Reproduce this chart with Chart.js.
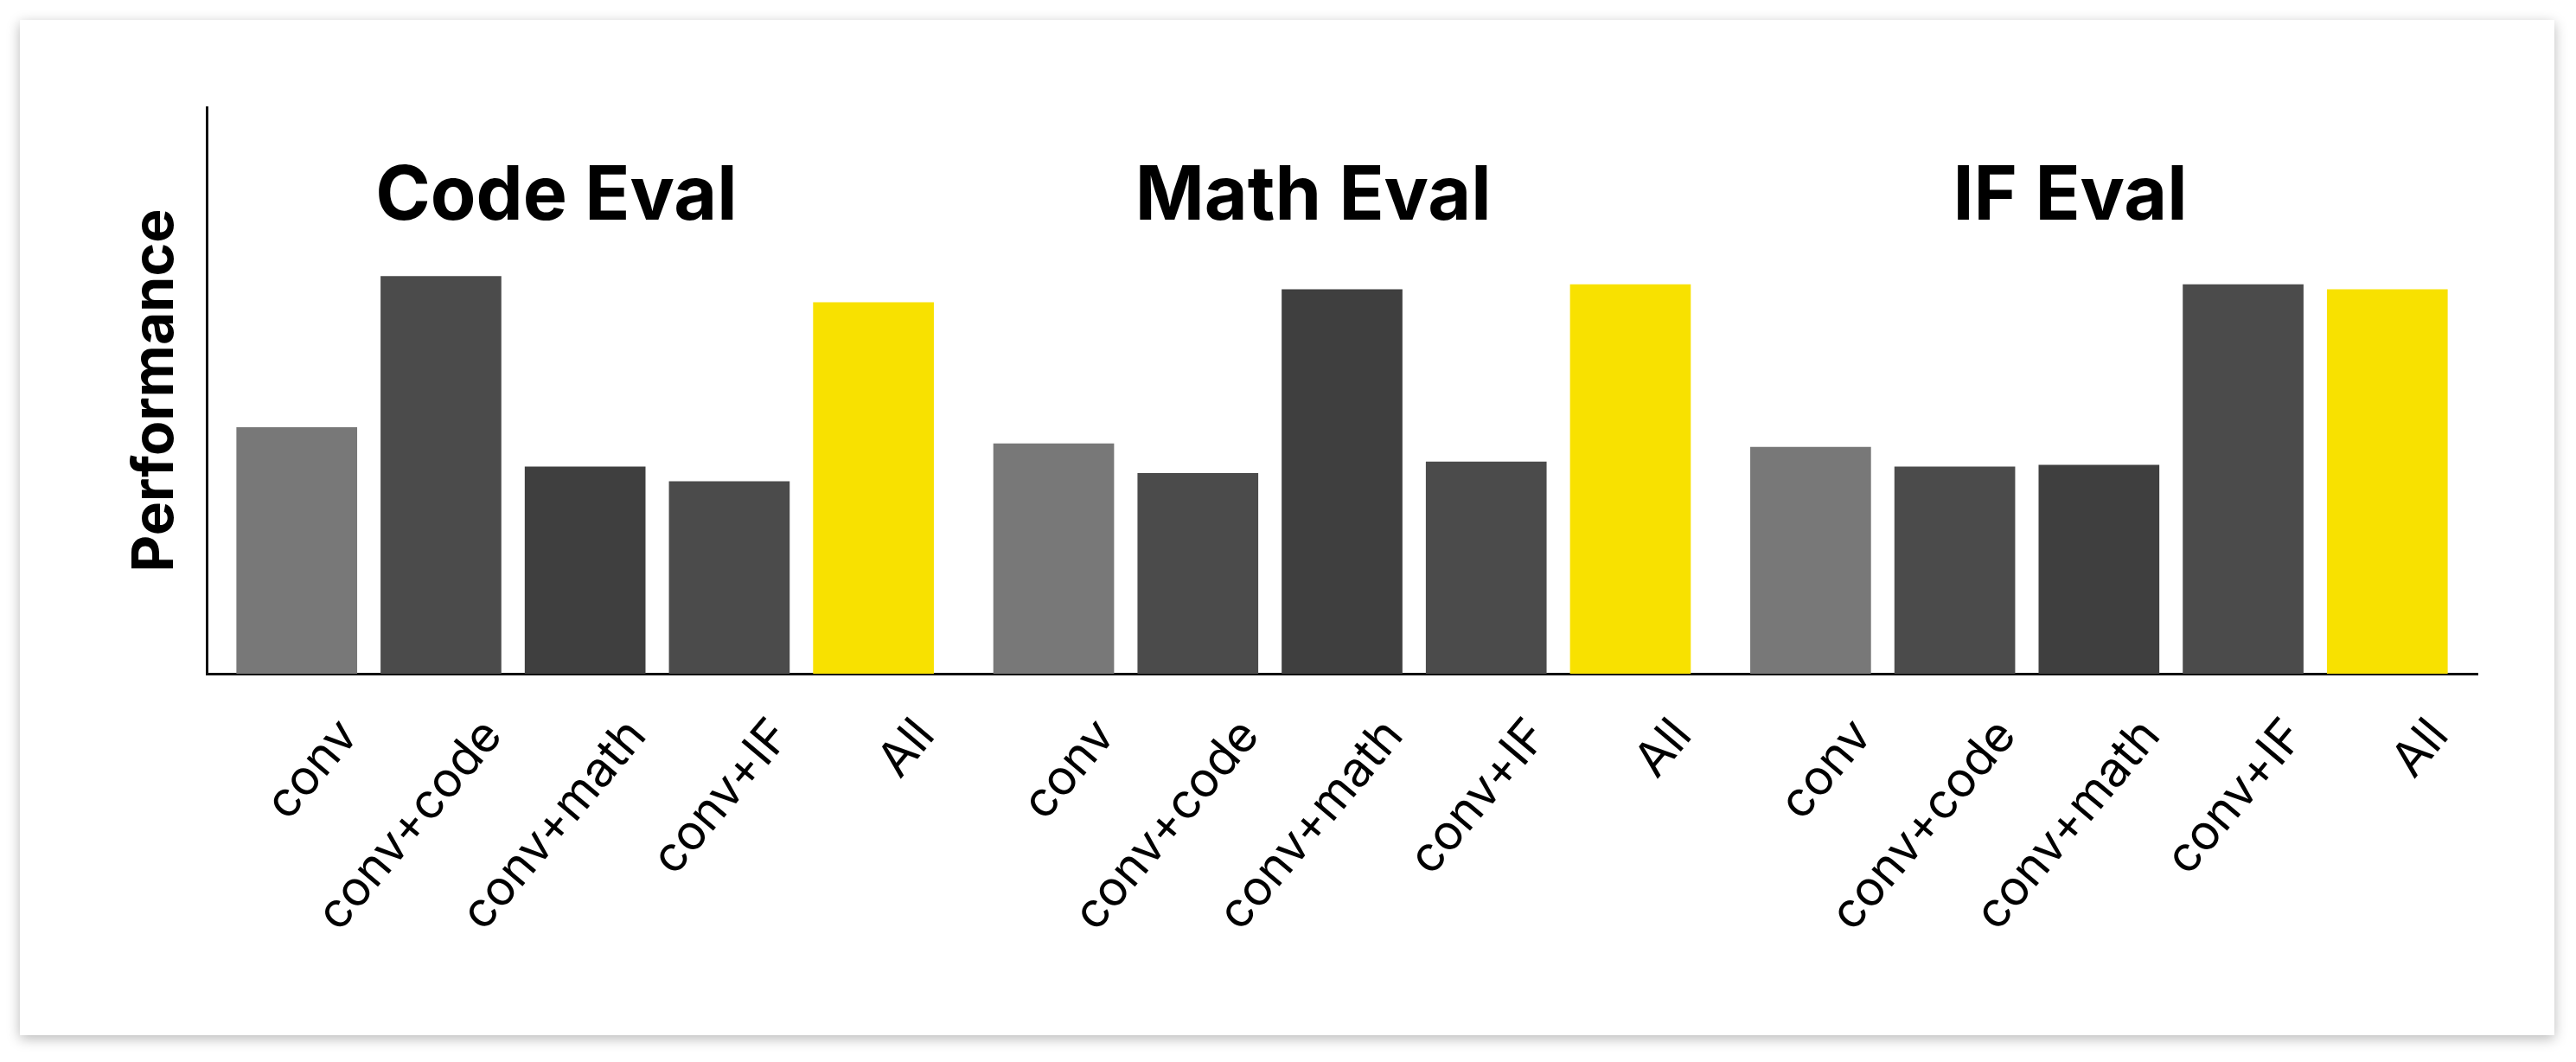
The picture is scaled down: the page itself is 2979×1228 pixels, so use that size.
<!DOCTYPE html>
<html><head><meta charset="utf-8">
<script src="https://cdn.jsdelivr.net/npm/chart.js@4"></script>
<style>
html,body{margin:0;padding:0;background:#fff;width:2979px;height:1228px;overflow:hidden}
#card{position:absolute;left:23px;top:23px;width:2931px;height:1174px;background:#fff;box-shadow:0 4px 14px rgba(0,0,0,0.28)}
</style></head><body>
<div id="card"><canvas id="c" width="2931" height="1174"></canvas></div>
<script>
const groups = ["Code Eval", "Math Eval", "IF Eval"];
const variants = ["conv", "conv+code", "conv+math", "conv+IF", "All"];
const codeEval = [150, 242, 126, 117, 226];
const mathEval = [140, 122, 234, 129, 237];
const ifEval = [138, 126, 127, 237, 234];
const variantColors = ["#787878", "#4b4b4b", "#3f3f3f", "#4b4b4b", "#f8e100"];
const groupStep = 5.25;

const series = [codeEval, mathEval, ifEval];
const points = [], colors = [], labelsAt = {};
series.forEach((vals, g) => vals.forEach((v, i) => {
  const x = g * groupStep + i;
  points.push({x, y: v});
  colors.push(variantColors[i]);
  labelsAt[x] = variants[i];
}));
const FONT = "Inter, 'Noto Sans', sans-serif";

const titles = {
  id: 'titles',
  afterDatasetsDraw(chart) {
    const {ctx, scales: {x, y}} = chart;
    ctx.save();
    ctx.font = "bold 86px " + FONT;
    ctx.fillStyle = "#000";
    ctx.textAlign = "center";
    ctx.textBaseline = "middle";
    groups.forEach((name, g) => ctx.fillText(name, x.getPixelForValue(g * groupStep + 1.8), y.getPixelForValue(290)));
    ctx.restore();
  }
};

new Chart(document.getElementById('c'), {
  type: 'bar',
  data: { datasets: [{ data: points, backgroundColor: colors, barThickness: 139, borderWidth: 0 }] },
  options: {
    responsive: false, animation: false,
    layout: { padding: { left: 118, top: 101, right: 89, bottom: 0 } },
    plugins: { legend: { display: false }, tooltip: { enabled: false } },
    scales: {
      x: {
        type: 'linear', min: -0.625, max: 15.125, offset: false,
        afterBuildTicks(s) { s.ticks = Object.keys(labelsAt).map(v => ({ value: +v })); },
        afterFit(s) { s.height = 418; },
        grid: { display: false, drawTicks: false, offset: false },
        border: { display: true, color: '#111', width: 3 },
        ticks: {
          autoSkip: false, maxRotation: 50, minRotation: 50, padding: 40, labelOffset: 60,
          color: '#000', font: { family: FONT, size: 56 },
          callback: v => labelsAt[v]
        }
      },
      y: {
        min: 0, max: 345,
        afterFit(s) { s.width = 98; },
        grid: { display: false, drawTicks: false },
        border: { display: true, color: '#111', width: 3 },
        ticks: { display: false },
        title: { display: true, text: 'Performance', color: '#000', font: { family: FONT, size: 66, weight: 'bold' }, padding: { top: 0, bottom: 20 } }
      }
    }
  },
  plugins: [titles]
});
</script></body></html>
